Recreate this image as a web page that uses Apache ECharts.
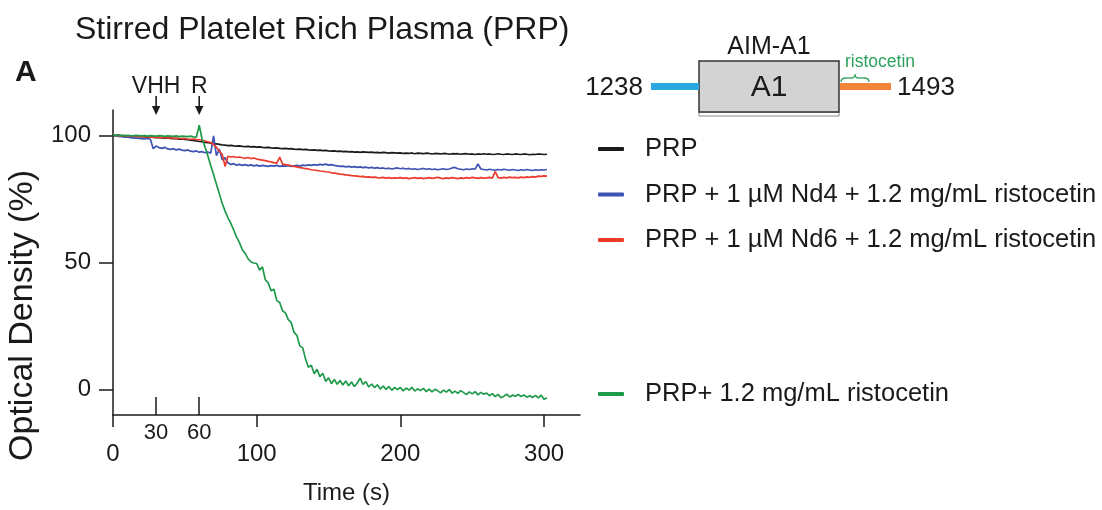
<!DOCTYPE html>
<html>
<head>
<meta charset="utf-8">
<script src="https://cdn.jsdelivr.net/npm/echarts@6/dist/echarts.min.js"></script>
<style>
  html, body { margin: 0; padding: 0; background: #ffffff; }
  #chart { width: 1102px; height: 510px; }
</style>
</head>
<body>
<div id="chart"></div>
<script>
// Aggregometry traces: optical density (%) sampled every 2 s
const time = [
  0, 2, 4, 6, 8, 10, 12, 14, 16, 18,
  20, 22, 24, 26, 28, 30, 32, 34, 36, 38,
  40, 42, 44, 46, 48, 50, 52, 54, 56, 58,
  60, 62, 64, 66, 68, 70, 72, 74, 76, 78,
  80, 82, 84, 86, 88, 90, 92, 94, 96, 98,
  100, 102, 104, 106, 108, 110, 112, 114, 116, 118,
  120, 122, 124, 126, 128, 130, 132, 134, 136, 138,
  140, 142, 144, 146, 148, 150, 152, 154, 156, 158,
  160, 162, 164, 166, 168, 170, 172, 174, 176, 178,
  180, 182, 184, 186, 188, 190, 192, 194, 196, 198,
  200, 202, 204, 206, 208, 210, 212, 214, 216, 218,
  220, 222, 224, 226, 228, 230, 232, 234, 236, 238,
  240, 242, 244, 246, 248, 250, 252, 254, 256, 258,
  260, 262, 264, 266, 268, 270, 272, 274, 276, 278,
  280, 282, 284, 286, 288, 290, 292, 294, 296, 298,
  300, 302
];

const prp = [
  100.0, 99.9, 100.1, 99.8, 99.9, 99.7, 99.8, 99.6, 99.7, 99.5,
  99.6, 99.4, 99.3, 99.4, 99.2, 99.1, 99.2, 99.0, 98.9, 99.0,
  98.8, 98.7, 98.8, 98.5, 98.6, 98.4, 98.3, 98.1, 98.0, 97.8,
  97.6, 97.5, 97.3, 97.2, 97.0, 96.8, 96.7, 96.5, 96.3, 96.2,
  96.0, 96.1, 95.9, 95.8, 95.9, 95.7, 95.6, 95.7, 95.5, 95.6,
  95.4, 95.5, 95.3, 95.2, 95.3, 95.1, 95.0, 95.1, 94.9, 94.8,
  94.9, 94.7, 94.8, 94.6, 94.5, 94.6, 94.4, 94.5, 94.3, 94.2,
  94.3, 94.1, 94.2, 94.0, 94.1, 93.9, 93.8, 93.9, 93.7, 93.8,
  93.6, 93.7, 93.5, 93.6, 93.4, 93.5, 93.3, 93.5, 93.4, 93.3,
  93.4, 93.2, 93.3, 93.1, 93.3, 93.2, 93.0, 93.2, 93.1, 93.0,
  93.1, 92.9, 93.0, 92.9, 93.1, 92.8, 93.0, 92.9, 92.8, 93.0,
  92.9, 92.7, 92.9, 92.8, 92.7, 92.9, 92.8, 92.6, 92.8, 92.7,
  92.8, 92.6, 92.7, 92.8, 92.6, 92.7, 92.5, 92.7, 92.6, 92.8,
  92.6, 92.7, 92.5, 92.6, 92.8, 92.6, 92.5, 92.7, 92.6, 92.5,
  92.7, 92.6, 92.5, 92.7, 92.6, 92.4, 92.6, 92.5, 92.7, 92.6,
  92.5, 92.6
];

const prpNd4 = [
  100.0, 99.8, 99.6, 99.5, 99.3, 99.4, 99.1, 99.0, 98.9, 98.8,
  98.7, 98.6, 98.8, 98.5, 94.8, 95.8, 95.2, 94.9, 95.3, 94.7,
  94.5, 94.8, 94.3, 94.6, 94.2, 94.0, 94.3, 93.8, 93.6, 93.9,
  93.4, 93.6, 93.2, 93.5, 93.0, 99.8, 92.0, 94.6, 90.4, 91.2,
  89.2, 88.6, 88.9, 88.3, 88.6, 88.2, 88.5, 88.1, 88.4, 88.0,
  88.3, 87.9, 88.2, 88.0, 87.8, 88.1, 87.9, 88.2, 87.8, 88.0,
  87.9, 88.1, 87.8, 88.0, 88.2, 87.9, 88.3, 88.1, 88.4, 88.2,
  88.5, 88.3, 88.6, 88.4, 88.7, 88.3, 88.5, 88.2, 88.0, 87.8,
  87.9, 87.6, 87.8, 87.5, 87.7, 87.4, 87.6, 87.3, 87.5, 87.2,
  87.4, 87.1, 87.3, 87.0, 87.2, 86.9, 87.1, 86.8, 87.0, 87.2,
  86.9, 87.1, 86.8, 87.0, 86.7, 86.9, 86.6, 86.8, 87.0, 86.7,
  86.9, 86.6, 86.8, 86.5, 86.7, 86.9, 86.6, 86.8, 87.2, 87.4,
  86.9, 86.7, 86.5, 86.8, 86.6, 86.9, 86.7, 88.8, 86.8, 86.6,
  86.4, 86.7, 86.5, 86.3, 86.6, 86.4, 86.7, 86.5, 86.3, 86.6,
  86.4, 86.2, 86.5, 86.3, 86.6, 86.4, 86.2, 86.5, 86.3, 86.5,
  86.4, 86.6
];

const prpNd6 = [
  100.0, 99.9, 100.0, 99.8, 99.9, 99.7, 99.8, 99.6, 99.7, 99.5,
  99.6, 99.4, 99.5, 99.3, 99.4, 99.2, 99.3, 99.1, 99.2, 99.0,
  99.1, 98.9, 98.8, 98.9, 98.7, 98.8, 98.6, 98.5, 98.6, 98.4,
  98.3, 98.1, 97.8, 97.5, 97.2, 96.5, 95.3, 93.8, 92.6, 87.8,
  91.8, 91.5, 91.7, 91.3, 91.5, 91.2, 91.0, 91.3, 90.9, 91.1,
  90.7, 90.5, 90.3, 90.1, 89.8, 89.6, 89.3, 89.1, 91.5, 88.7,
  88.5, 88.3, 88.0, 87.8, 87.6, 87.3, 87.2, 86.9, 86.8, 86.5,
  86.4, 86.2, 86.0, 85.9, 85.7, 85.6, 85.3, 85.2, 85.0, 84.8,
  84.7, 84.5, 84.4, 84.2, 84.1, 84.0, 83.8, 83.9, 83.6, 83.7,
  83.5, 83.6, 83.4, 83.3, 83.5, 83.2, 83.4, 83.1, 83.3, 83.2,
  83.4, 83.1, 83.3, 83.0, 83.2, 83.4, 83.1, 83.3, 83.0, 83.2,
  83.4, 83.1, 83.3, 83.5, 83.2, 83.0, 83.3, 83.1, 83.4, 83.2,
  83.0, 83.3, 83.1, 83.4, 83.2, 83.5, 83.3, 83.1, 83.4, 83.2,
  83.3, 83.5, 83.2, 85.8, 83.4, 83.2, 83.5, 83.3, 83.6, 83.4,
  83.5, 83.3, 83.6, 83.4, 83.7, 83.5, 83.8, 83.6, 84.0, 83.9,
  84.1, 84.0
];

const prpRisto = [
  100.0, 100.1, 99.9, 100.0, 99.8, 100.0, 99.9, 99.8, 100.0, 99.9,
  99.8, 99.9, 99.7, 99.9, 99.8, 99.7, 99.9, 99.8, 99.6, 99.8,
  99.7, 99.6, 99.8, 99.5, 99.7, 99.6, 99.5, 99.7, 99.4, 99.3,
  104.0, 98.6, 95.5, 92.0, 88.2, 84.5, 80.8, 77.0, 73.3, 70.2,
  67.6, 65.4, 62.8, 60.0, 57.8, 55.0, 53.6, 51.5, 50.2, 49.8,
  49.6, 47.0, 48.3, 43.2, 42.0, 38.9, 39.5, 35.0, 34.3, 31.0,
  30.2, 27.5, 26.4, 22.5, 21.3, 17.2, 16.5, 12.0, 8.8, 9.6,
  6.2, 8.0, 5.1, 6.4, 3.2, 4.6, 2.3, 4.0, 2.1, 3.6,
  1.8, 3.4, 1.5, 3.0, 1.2, 2.6, 4.5, 2.0, 3.1, 1.0,
  2.2, 0.8, 1.9, 0.2, 1.4, 0.1, 1.2, -0.3, 0.9, 0.0,
  0.8, -0.5, 0.6, -0.2, 0.9, -0.6, 0.3, -0.4, 0.5, -0.8,
  0.2, -0.9, 0.1, -0.5, -1.3, -0.2, -1.0, 0.0, -1.4, -0.6,
  -1.5, -0.4, -1.2, -2.0, -0.9, -1.7, -0.8, -2.1, -1.1, -1.8,
  -1.4, -2.4, -1.6, -2.8, -1.9, -3.2, -2.6, -1.8, -2.9, -2.2,
  -2.6, -1.9, -2.7, -2.1, -3.0, -2.4, -3.1, -2.3, -3.3, -2.2,
  -3.8, -3.2
];

const seriesNames = [
  'PRP',
  'PRP + 1 µM Nd4 + 1.2 mg/mL ristocetin',
  'PRP + 1 µM Nd6 + 1.2 mg/mL ristocetin',
  'PRP+ 1.2 mg/mL ristocetin'
];
const seriesColors = ['#1a1a1a', '#3c53b2', '#ec3a2c', '#1f9a4b'];

const xTicks = [0, 100, 200, 300];
const xMarks = [30, 60];
const yTicks = [0, 50, 100];
const additions = [
  { t: 30, label: 'VHH' },
  { t: 60, label: 'R' }
];

const FONT = '"Liberation Sans", Arial, Helvetica, sans-serif';
const INK = '#1a1a1a';

const chart = echarts.init(document.getElementById('chart'), null, { renderer: 'canvas' });

const toPairs = vals => time.map((t, i) => [t, vals[i]]);
const traces = [prp, prpNd4, prpNd6, prpRisto];
// draw order: control first, full aggregation, then the two nanobody traces
const drawOrder = [0, 3, 1, 2];

const legendText = { fontFamily: FONT, fontSize: 25.5, color: INK, lineHeight: 26, padding: [0, 0, 0, 16] };

const option = {
  animation: false,
  backgroundColor: '#ffffff',
  textStyle: { fontFamily: FONT, color: INK },
  title: [
    {
      text: 'Stirred Platelet Rich Plasma (PRP)',
      left: 70, top: 9,
      textStyle: { fontFamily: FONT, fontSize: 32, fontWeight: 'normal', color: INK }
    },
    {
      text: 'A',
      left: 10, top: 53,
      textStyle: { fontFamily: FONT, fontSize: 30, fontWeight: 'bold', color: INK }
    }
  ],
  legend: [
    {
      data: seriesNames.slice(0, 3),
      orient: 'vertical',
      left: 593, top: 131,
      itemWidth: 26, itemHeight: 4, itemGap: 19.5,
      icon: 'roundRect',
      selectedMode: false,
      textStyle: legendText
    },
    {
      data: seriesNames.slice(3),
      orient: 'vertical',
      left: 593, top: 376,
      itemWidth: 26, itemHeight: 4,
      icon: 'roundRect',
      selectedMode: false,
      textStyle: legendText
    }
  ],
  grid: { left: 113, top: 110, right: 522, bottom: 89.3, containLabel: false },
  xAxis: [
    {
      type: 'value',
      min: 0, max: 325,
      position: 'bottom',
      name: 'Time (s)',
      nameLocation: 'middle',
      nameGap: 66,
      nameTextStyle: { fontFamily: FONT, fontSize: 24, color: INK },
      axisLine: { onZero: false, lineStyle: { color: INK, width: 1.5 } },
      axisTick: { show: true, length: 12, customValues: xTicks, lineStyle: { color: INK, width: 1.5 } },
      axisLabel: { customValues: xTicks, fontFamily: FONT, fontSize: 24, color: INK, margin: 27 },
      splitLine: { show: false }
    },
    {
      type: 'value',
      min: 0, max: 325,
      position: 'bottom',
      axisLine: { show: false, onZero: false },
      axisTick: { show: true, inside: true, length: 18, customValues: xMarks, lineStyle: { color: INK, width: 1.5 } },
      axisLabel: { customValues: xMarks, fontFamily: FONT, fontSize: 22, color: INK, margin: 7 },
      splitLine: { show: false }
    }
  ],
  yAxis: {
    type: 'value',
    min: -10, max: 110,
    name: 'Optical Density (%)',
    nameLocation: 'middle',
    nameGap: 73,
    // label sits a little below the axis midpoint
    nameTextStyle: { fontFamily: FONT, fontSize: 34, color: INK, padding: [0, 106, 0, 0] },
    axisLine: { show: true, onZero: false, lineStyle: { color: INK, width: 1.5 } },
    axisTick: { show: true, length: 14, customValues: yTicks, lineStyle: { color: INK, width: 1.5 } },
    axisLabel: { customValues: yTicks, fontFamily: FONT, fontSize: 24, color: INK, margin: 22 },
    splitLine: { show: false }
  },
  series: drawOrder.map(k => ({
    name: seriesNames[k],
    type: 'line',
    data: toPairs(traces[k]),
    showSymbol: false,
    symbol: 'none',
    color: seriesColors[k],
    lineStyle: { color: seriesColors[k], width: 1.7 },
    emphasis: { disabled: true },
    z: 2 + k
  }))
};

chart.setOption(option);

// Addition arrows (VHH, ristocetin) placed on the time scale above the plot
const yTop = chart.convertToPixel({ yAxisIndex: 0 }, 110);
const arrowGraphics = [];
additions.forEach(a => {
  const x = chart.convertToPixel({ xAxisIndex: 0 }, a.t);
  arrowGraphics.push(
    { type: 'text', x: x, y: yTop - 23, style: { text: a.label, fontFamily: FONT, fontSize: 23, fill: INK, align: 'center', verticalAlign: 'middle' } },
    { type: 'line', shape: { x1: x, y1: yTop - 14, x2: x, y2: yTop - 1 }, style: { stroke: INK, lineWidth: 1.6 } },
    { type: 'polygon', shape: { points: [[x - 4.2, yTop - 4], [x + 4.2, yTop - 4], [x, yTop + 5]] }, style: { fill: INK } }
  );
});

// AIM-A1 construct schematic
const braceStyle = { fill: 'none', stroke: '#2ca25a', lineWidth: 1.3 };
const schematic = [
  { type: 'rect', shape: { x: 699, y: 112, width: 140, height: 4 }, style: { fill: '#ffffff', stroke: '#8a8a8a', lineWidth: 1 } },
  { type: 'rect', shape: { x: 699, y: 61, width: 140, height: 51 }, style: { fill: '#d3d3d3', stroke: '#333333', lineWidth: 1.5 } },
  { type: 'line', shape: { x1: 651, y1: 86.5, x2: 699, y2: 86.5 }, style: { stroke: '#2aa9e0', lineWidth: 7 } },
  { type: 'line', shape: { x1: 840, y1: 86.5, x2: 891, y2: 86.5 }, style: { stroke: '#f4843a', lineWidth: 7 } },
  { type: 'text', x: 769, y: 47, style: { text: 'AIM-A1', fontFamily: FONT, fontSize: 25, fill: INK, align: 'center', verticalAlign: 'middle' } },
  { type: 'text', x: 769, y: 88, style: { text: 'A1', fontFamily: FONT, fontSize: 30, fill: INK, align: 'center', verticalAlign: 'middle' } },
  { type: 'text', x: 643, y: 88, style: { text: '1238', fontFamily: FONT, fontSize: 26, fill: INK, align: 'right', verticalAlign: 'middle' } },
  { type: 'text', x: 897, y: 88, style: { text: '1493', fontFamily: FONT, fontSize: 26, fill: INK, align: 'left', verticalAlign: 'middle' } },
  { type: 'text', x: 845, y: 62, style: { text: 'ristocetin', fontFamily: FONT, fontSize: 17.5, fill: '#2ca25a', align: 'left', verticalAlign: 'middle' } },
  // curly brace marking the ristocetin-binding stretch
  { type: 'bezierCurve', shape: { x1: 841, y1: 82, x2: 846, y2: 78, cpx1: 841, cpy1: 78 }, style: braceStyle },
  { type: 'line', shape: { x1: 846, y1: 78, x2: 851, y2: 78 }, style: braceStyle },
  { type: 'bezierCurve', shape: { x1: 851, y1: 78, x2: 855, y2: 74.5, cpx1: 855, cpy1: 78 }, style: braceStyle },
  { type: 'bezierCurve', shape: { x1: 855, y1: 74.5, x2: 859, y2: 78, cpx1: 855, cpy1: 78 }, style: braceStyle },
  { type: 'line', shape: { x1: 859, y1: 78, x2: 864, y2: 78 }, style: braceStyle },
  { type: 'bezierCurve', shape: { x1: 864, y1: 78, x2: 869, y2: 82, cpx1: 869, cpy1: 78 }, style: braceStyle }
];

chart.setOption({ graphic: schematic.concat(arrowGraphics) });
</script>
</body>
</html>
